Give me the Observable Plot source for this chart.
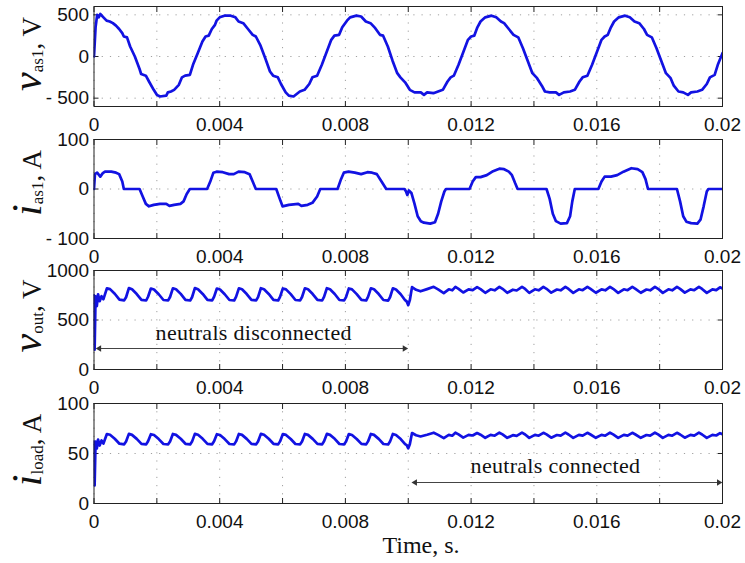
<!DOCTYPE html>
<html>
<head>
<meta charset="utf-8">
<script src="https://cdn.jsdelivr.net/npm/d3@7"></script>
<script src="https://cdn.jsdelivr.net/npm/@observablehq/plot@0.6"></script>
<style>
  body { margin: 0; background: #fff; }
  #fig { position: relative; width: 745px; height: 563px; background: #fff; overflow: hidden; }
  .panel { position: absolute; left: 0; }
  #xlabel { position: absolute; left: 0; width: 745px; top: 532px; text-align: center;
            font-family: "Liberation Serif", "Times New Roman", serif; font-size: 24px; color: #111;
            padding-left: 97px; box-sizing: border-box; }
</style>
</head>
<body>
<div id="fig"><div id="xlabel">Time, s.</div></div>
<script>
// ---- Data (time in ms) ----
const xMinorTicks = [0, 2, 4, 6, 8, 10, 12, 14, 16, 18, 20];
const xMajorTicks = [0, 4, 8, 12, 16, 20];
const xTickLabels = ["0", "0.004", "0.008", "0.012", "0.016", "0.02"];

// v_as1 (V)
const vAs1 = [
  [0,0],[0.05,350],[0.1,500],[0.15,470],[0.2,510],[0.3,470],[0.4,430],[0.5,420],[0.6,400],[0.7,370],
  [0.8,330],[0.9,280],[0.95,240],[1.05,230],[1.15,120],[1.3,0],[1.45,-150],[1.5,-210],[1.65,-230],[1.75,-300],
  [1.9,-400],[2.0,-460],[2.1,-480],[2.3,-470],[2.35,-430],[2.45,-420],[2.55,-400],[2.7,-340],[2.8,-250],[2.9,-230],
  [3.05,-220],[3.15,-100],[3.3,40],[3.45,180],[3.55,240],[3.65,250],[3.75,330],[3.85,380],[3.9,430],[4.0,470],
  [4.15,490],[4.35,490],[4.5,470],[4.6,420],[4.75,400],[4.9,330],[5.05,260],[5.15,240],[5.3,130],[5.45,-20],
  [5.6,-180],[5.7,-230],[5.85,-250],[5.95,-330],[6.1,-430],[6.2,-470],[6.35,-480],[6.45,-450],[6.55,-420],[6.7,-400],
  [6.85,-330],[6.95,-250],[7.1,-230],[7.25,-100],[7.4,50],[7.55,200],[7.65,250],[7.8,260],[7.9,350],[8.05,430],
  [8.15,470],[8.35,490],[8.5,480],[8.65,420],[8.8,400],[8.95,340],[9.1,260],[9.2,250],[9.35,120],[9.5,-50],
  [9.65,-200],[9.75,-250],[9.9,-310],[10.05,-400],[10.2,-430],[10.4,-430],[10.5,-460],[10.6,-430],[10.8,-440],[10.95,-420],
  [11.1,-400],[11.25,-300],[11.35,-250],[11.45,-230],[11.6,-100],[11.75,50],[11.9,200],[12.0,240],[12.1,250],[12.2,350],
  [12.3,420],[12.45,470],[12.65,490],[12.8,470],[12.95,420],[13.05,400],[13.2,330],[13.35,260],[13.5,230],[13.65,100],
  [13.8,-50],[13.95,-200],[14.1,-260],[14.25,-350],[14.35,-420],[14.5,-430],[14.7,-430],[14.8,-460],[14.95,-430],[15.15,-420],
  [15.3,-400],[15.45,-300],[15.55,-250],[15.7,-230],[15.85,-100],[16.0,50],[16.15,200],[16.25,240],[16.35,260],[16.45,350],
  [16.55,420],[16.7,470],[16.9,490],[17.05,470],[17.2,420],[17.35,400],[17.5,330],[17.6,260],[17.75,230],[17.9,100],
  [18.05,-50],[18.2,-200],[18.35,-260],[18.45,-350],[18.6,-420],[18.75,-430],[18.9,-460],[19.0,-430],[19.2,-420],[19.35,-400],
  [19.5,-330],[19.6,-250],[19.75,-220],[19.85,-100],[20.0,40]
];

// i_as1 (A)
const iAs1 = [
  [0,0],[0.03,30],[0.1,33],[0.2,25],[0.28,32],[0.35,35],[0.55,35],[0.7,33],[0.8,30],[0.9,15],[0.95,0],
  [1.45,0],[1.55,-15],[1.65,-30],[1.75,-35],[1.9,-32],[2.1,-30],[2.3,-30],[2.4,-34],[2.55,-32],[2.75,-30],[2.85,-25],[2.95,-10],[3.05,0],
  [3.6,0],[3.7,15],[3.8,33],[3.9,35],[4.1,34],[4.3,30],[4.45,30],[4.6,35],[4.8,34],[4.95,30],[5.05,15],[5.15,0],
  [5.8,0],[5.9,-18],[6.0,-35],[6.2,-32],[6.5,-30],[6.6,-34],[6.8,-32],[6.95,-28],[7.1,-15],[7.2,0],
  [7.75,0],[7.85,18],[7.95,33],[8.1,35],[8.3,33],[8.5,30],[8.7,34],[8.85,33],[9.0,30],[9.15,15],[9.3,0],
  [9.88,0],[9.93,-5],[9.97,-12],[10.02,-3],[10.1,-8],[10.2,-30],[10.3,-55],[10.4,-65],[10.5,-68],[10.7,-70],[10.85,-67],[10.95,-50],[11.05,-25],[11.15,-5],[11.2,0],
  [11.95,0],[12.05,15],[12.15,24],[12.3,24],[12.5,28],[12.7,36],[12.9,41],[13.05,40],[13.2,35],[13.3,28],[13.4,12],[13.48,0],
  [14.4,0],[14.5,-20],[14.6,-50],[14.7,-65],[14.85,-70],[15.05,-69],[15.15,-55],[15.22,-25],[15.3,0],
  [16.05,0],[16.15,15],[16.25,25],[16.45,25],[16.65,28],[16.85,35],[17.1,42],[17.3,40],[17.45,34],[17.55,20],[17.63,0],
  [18.55,0],[18.65,-25],[18.75,-55],[18.85,-66],[19.0,-69],[19.2,-70],[19.3,-62],[19.4,-35],[19.5,-5],[19.55,0],[20,0]
];

// v_out (V)
const vOut = [
  [0,750],[0.02,200],[0.05,740],[0.09,640],[0.13,760],[0.18,690],[0.24,740],[0.3,710],
  [0.41,820],[0.51,812],[0.66,765],[0.81,705],[0.96,698],[1.02,730],
  [1.11,822],[1.21,810],[1.36,762],[1.51,703],[1.66,697],[1.72,735],
  [1.81,818],[1.91,808],[2.06,760],[2.21,702],[2.36,698],[2.42,732],
  [2.51,820],[2.61,810],[2.76,764],[2.91,704],[3.06,697],[3.12,730],
  [3.21,822],[3.31,811],[3.46,763],[3.61,703],[3.76,698],[3.82,734],
  [3.91,818],[4.01,808],[4.16,760],[4.31,702],[4.46,697],[4.52,733],
  [4.61,820],[4.71,810],[4.86,762],[5.01,703],[5.16,698],[5.22,731],
  [5.31,821],[5.41,811],[5.56,763],[5.71,704],[5.86,697],[5.92,733],
  [6.01,819],[6.11,809],[6.26,761],[6.41,702],[6.56,698],[6.62,732],
  [6.71,820],[6.81,810],[6.96,762],[7.11,703],[7.26,697],[7.32,734],
  [7.41,821],[7.51,810],[7.66,763],[7.81,702],[7.96,698],[8.02,731],
  [8.11,819],[8.21,809],[8.36,761],[8.51,703],[8.66,697],[8.72,733],
  [8.81,820],[8.91,810],[9.06,762],[9.21,702],[9.36,696],[9.42,730],
  [9.51,820],[9.61,808],[9.76,760],[9.9,700],[9.95,688],[10.0,650],[10.05,700],[10.12,832],
  [10.25,805],[10.39,790],[10.6,812],[10.81,835],[10.95,810],
  [11.13,772],[11.29,810],[11.4,800],[11.5,835],[11.6,815],
  [11.75,778],[11.92,810],[12.05,802],[12.19,832],[12.3,812],
  [12.45,775],[12.62,810],[12.75,800],[12.9,835],[13.0,815],
  [13.15,775],[13.33,806],[13.45,798],[13.62,835],[13.72,814],
  [13.85,774],[14.03,810],[14.15,800],[14.3,834],[14.4,815],
  [14.55,776],[14.73,808],[14.85,800],[15.0,835],[15.1,814],
  [15.25,774],[15.43,810],[15.55,801],[15.7,834],[15.8,814],
  [15.97,775],[16.15,809],[16.27,800],[16.42,835],[16.52,815],
  [16.68,774],[16.86,810],[16.98,801],[17.13,834],[17.23,814],
  [17.4,775],[17.58,808],[17.7,800],[17.85,835],[17.95,815],
  [18.1,774],[18.28,810],[18.4,800],[18.55,834],[18.65,814],
  [18.8,776],[18.98,809],[19.1,801],[19.25,835],[19.35,814],
  [19.5,774],[19.68,810],[19.8,802],[19.92,830],[20.0,818]
];

// i_load (A)
const iLoad = [
  [0,62],[0.02,18],[0.05,62],[0.09,55],[0.13,64],[0.18,58],[0.24,63],[0.3,60],
  [0.41,69.5],[0.51,68.8],[0.66,64.8],[0.81,59.8],[0.96,59.2],[1.02,62],
  [1.11,69.6],[1.21,68.6],[1.36,64.6],[1.51,59.6],[1.66,59.1],[1.72,62.3],
  [1.81,69.3],[1.91,68.5],[2.06,64.4],[2.21,59.5],[2.36,59.2],[2.42,62],
  [2.51,69.5],[2.61,68.6],[2.76,64.7],[2.91,59.7],[3.06,59.1],[3.12,61.9],
  [3.21,69.6],[3.31,68.7],[3.46,64.7],[3.61,59.6],[3.76,59.2],[3.82,62.2],
  [3.91,69.3],[4.01,68.5],[4.16,64.4],[4.31,59.5],[4.46,59.1],[4.52,62.1],
  [4.61,69.5],[4.71,68.6],[4.86,64.6],[5.01,59.6],[5.16,59.2],[5.22,62],
  [5.31,69.6],[5.41,68.7],[5.56,64.7],[5.71,59.7],[5.86,59.1],[5.92,62.1],
  [6.01,69.4],[6.11,68.6],[6.26,64.5],[6.41,59.5],[6.56,59.2],[6.62,62],
  [6.71,69.5],[6.81,68.6],[6.96,64.6],[7.11,59.6],[7.26,59.1],[7.32,62.2],
  [7.41,69.6],[7.51,68.6],[7.66,64.7],[7.81,59.5],[7.96,59.2],[8.02,61.9],
  [8.11,69.4],[8.21,68.5],[8.36,64.5],[8.51,59.6],[8.66,59.1],[8.72,62.1],
  [8.81,69.5],[8.91,68.6],[9.06,64.6],[9.21,59.5],[9.36,59.0],[9.42,61.9],
  [9.51,69.5],[9.61,68.5],[9.76,64.4],[9.9,59.3],[9.95,58.3],[10.0,55.1],[10.05,59.3],[10.12,70.5],
  [10.25,68.2],[10.39,67.0],[10.6,68.8],[10.81,70.8],[10.95,68.6],
  [11.13,65.4],[11.29,68.6],[11.4,67.8],[11.5,70.8],[11.6,69.1],
  [11.75,65.9],[11.92,68.6],[12.05,68.0],[12.19,70.5],[12.3,68.8],
  [12.45,65.7],[12.62,68.6],[12.75,67.8],[12.9,70.8],[13.0,69.1],
  [13.15,65.7],[13.33,68.3],[13.45,67.6],[13.62,70.8],[13.72,69.0],
  [13.85,65.6],[14.03,68.6],[14.15,67.8],[14.3,70.7],[14.4,69.1],
  [14.55,65.8],[14.73,68.5],[14.85,67.8],[15.0,70.8],[15.1,69.0],
  [15.25,65.6],[15.43,68.6],[15.55,67.9],[15.7,70.7],[15.8,69.0],
  [15.97,65.7],[16.15,68.6],[16.27,67.8],[16.42,70.8],[16.52,69.1],
  [16.68,65.6],[16.86,68.6],[16.98,67.9],[17.13,70.7],[17.23,69.0],
  [17.4,65.7],[17.58,68.5],[17.7,67.8],[17.85,70.8],[17.95,69.1],
  [18.1,65.6],[18.28,68.6],[18.4,67.8],[18.55,70.7],[18.65,69.0],
  [18.8,65.8],[18.98,68.6],[19.1,67.9],[19.25,70.8],[19.35,69.0],
  [19.5,65.6],[19.68,68.6],[19.8,68.0],[19.92,70.3],[20.0,69.3]
];

// y-axis ticks per panel
const yTicks1 = [-500, 0, 500], yTickLabels1 = ["- 500", "0", "500"];
const yTicks2 = [-100, 0, 100], yTickLabels2 = ["- 100", "0", "100"];
const yTicks3 = [0, 500, 1000], yTickLabels3 = ["0", "500", "1000"];
const yTicks4 = [0, 50, 100],   yTickLabels4 = ["0", "50", "100"];

// annotations: text position (ms, value at baseline), arrow span (ms) and arrow level
const annot3 = {text: "neutrals disconnected", x: 5.1, y: 293, x1: 0.2, x2: 9.85, ya: 212};
const annot4 = {text: "neutrals connected", x: 14.7, y: 30, x1: 10.25, x2: 19.85, ya: 21};

// ---- Rendering ----
const LINE = "#1212e2";
const SERIF = "'Liberation Serif', 'Times New Roman', Times, serif";
const fig = document.getElementById("fig");

const panels = [
  {data: vAs1, domain: [-600, 600], ticks: yTicks1, labels: yTickLabels1, top: 0, mt: 6, h: 100, mb: 27,
   sym: "v", sub: "as1", unit: "V", labY: 54},
  {data: iAs1, domain: [-100, 100], ticks: yTicks2, labels: yTickLabels2, top: 133, mt: 6, h: 99, mb: 26,
   sym: "i", sub: "as1", unit: "A", labY: 183},
  {data: vOut, domain: [0, 1000], ticks: yTicks3, labels: yTickLabels3, top: 264, mt: 6, h: 99, mb: 28,
   sym: "v", sub: "out", unit: "V", labY: 316, annot: annot3},
  {data: iLoad, domain: [0, 100], ticks: yTicks4, labels: yTickLabels4, top: 397, mt: 6, h: 100, mb: 30,
   sym: "i", sub: "load", unit: "A", labY: 450, annot: annot4}
];

const xLabelMap = new Map(xMajorTicks.map((t, i) => [t, xTickLabels[i]]));

for (const p of panels) {
  const rows = p.data.map(([t, v]) => ({t, v}));
  const yLabelMap = new Map(p.ticks.map((t, i) => [t, p.labels[i]]));
  const grid = {stroke: "#a0a0a0", strokeOpacity: 1, strokeWidth: 1, strokeDasharray: "1.2,7"};
  const marks = [
    Plot.gridX(xMinorTicks, grid),
    Plot.gridY(p.ticks, grid),
    Plot.axisX({anchor: "bottom", ticks: xMinorTicks, tickSize: -5, tickFormat: () => "", label: null, stroke: "#222"}),
    Plot.axisX({anchor: "top", ticks: xMinorTicks, tickSize: -5, tickFormat: () => "", label: null, stroke: "#222"}),
    Plot.axisX({anchor: "bottom", ticks: xMajorTicks, tickSize: 0, tickPadding: 11, tickFormat: d => xLabelMap.get(d), label: null, fill: "#111"}),
    Plot.axisY({anchor: "left", ticks: p.ticks, tickSize: -5, tickPadding: 10, tickFormat: d => yLabelMap.get(d), label: null, fill: "#111", stroke: "#222"}),
    Plot.axisY({anchor: "right", ticks: p.ticks, tickSize: -5, tickFormat: () => "", label: null, stroke: "#222"}),
    Plot.line(rows, {x: "t", y: "v", stroke: LINE, strokeWidth: 2.7, strokeLinejoin: "round", clip: true}),
    Plot.frame({stroke: "#222", strokeWidth: 1})
  ];
  if (p.annot) {
    const a = p.annot;
    marks.push(
      Plot.link([a], {x1: "x1", x2: "x2", y1: "ya", y2: "ya", stroke: "#444", strokeWidth: 1}),
      Plot.dot([a], {x: "x1", y: "ya", symbol: "triangle2", r: 3, rotate: -90, fill: "#333", dx: -1}),
      Plot.dot([a], {x: "x2", y: "ya", symbol: "triangle2", r: 3, rotate: 90, fill: "#333", dx: 1})
    );
  }
  const chart = Plot.plot({
    width: 745,
    height: p.mt + p.h + p.mb,
    marginLeft: 93.5,
    marginRight: 23,
    marginTop: p.mt,
    marginBottom: p.mb,
    x: {domain: [0, 20]},
    y: {domain: p.domain},
    style: {fontFamily: "'Liberation Sans', Arial, Helvetica, sans-serif", fontSize: "19px", color: "#111", background: "transparent", overflow: "visible"},
    marks
  });
  const svg = d3.select(chart);
  // annotation text, positioned through the plot's own scales
  if (p.annot) {
    const a = p.annot;
    const sx = chart.scale("x"), sy = chart.scale("y");
    svg.append("text")
      .attr("x", sx.apply(a.x)).attr("y", sy.apply(a.y))
      .attr("text-anchor", "middle")
      .attr("font-family", SERIF).style("font-family", SERIF)
      .attr("font-size", 22).attr("letter-spacing", "0.3")
      .attr("fill", "#111")
      .text(a.text);
  }
  // y-axis title with subscript
  const cy = p.labY - p.top;
  const g = svg.append("g").attr("transform", `translate(41,${cy}) rotate(-90)`);
  const t = g.append("text").attr("text-anchor", "middle")
    .style("font-family", SERIF).attr("fill", "#111");
  t.append("tspan").attr("font-style", "italic").attr("font-size", 42).text(p.sym);
  t.append("tspan").attr("font-size", 17).attr("dy", 2).text(p.sub);
  t.append("tspan").attr("font-size", 27).attr("dy", -2).text(", " + p.unit);

  const wrap = document.createElement("div");
  wrap.className = "panel";
  wrap.style.top = p.top + "px";
  wrap.appendChild(chart);
  fig.appendChild(wrap);
}
</script>
</body>
</html>
